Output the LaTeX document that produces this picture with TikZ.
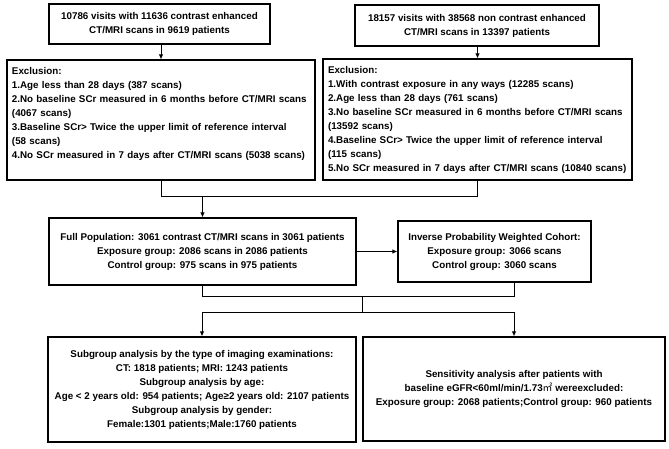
\documentclass[tikz,border=0pt]{standalone}
\usepackage{fontspec}
\setmainfont{Liberation Sans}
\newfontfamily\cjk{Noto Sans CJK SC}
\usetikzlibrary{arrows.meta}

\begin{document}
\begin{tikzpicture}[x=1pt,y=-1pt,
  every node/.style={font=\bfseries\fontsize{9.8}{14}\selectfont},
  box/.style={draw,line width=1.2pt,inner sep=0pt,align=center},
  exbox/.style={draw,line width=1.2pt,inner xsep=5pt,inner ysep=0pt,align=left},
  arr/.style={line width=1pt,-{Latex[length=5pt,width=4.5pt]}},
  ln/.style={line width=1pt}]
  \useasboundingbox (0,0) rectangle (669,448);
  \path (159.5,24) node[box,minimum width=221,minimum height=40] (vis1) {10786 visits with 11636 contrast enhanced\\CT/MRI scans in 9619 patients}
  (477,25.5) node[box,minimum width=244,minimum height=41] (vis2) {18157 visits with 38568 non contrast enhanced\\CT/MRI scans in 13397 patients}
  (161,120) node[exbox,text width=298,minimum height=120] (excl1) {Exclusion:\\1.Age less than 28 days (387 scans)\\2.No baseline SCr measured in 6 months before CT/MRI scans\\(4067 scans)\\3.Baseline SCr> Twice the upper limit of reference interval\\(58 scans)\\4.No SCr measured in 7 days after CT/MRI scans (5038 scans)\\\mbox{}}
  (477.5,119.5) node[exbox,text width=299,minimum height=121] (excl2) {Exclusion:\\1.With contrast exposure in any ways (12285 scans)\\2.Age less than 28 days (761 scans)\\3.No baseline SCr measured in 6 months before CT/MRI scans\\(13592 scans)\\4.Baseline SCr> Twice the upper limit of reference interval\\(115 scans)\\5.No SCr measured in 7 days after CT/MRI scans (10840 scans)}
  (202.5,251.5) node[box,minimum width=307,minimum height=67] (full) {Full Population: 3061 contrast CT/MRI scans in 3061 patients\\Exposure group: 2086 scans in 2086 patients\\Control group: 975 scans in 975 patients}
  (494.5,251.5) node[box,minimum width=193,minimum height=61] (ipw) {Inverse Probability Weighted Cohort:\\Exposure group: 3066 scans\\Control group: 3060 scans}
  (202,389.5) node[box,minimum width=308,minimum height=105] (sub) {Subgroup analysis by the type of imaging examinations:\\CT: 1818 patients; MRI: 1243 patients\\Subgroup analysis by age:\\Age < 2 years old: 954 patients; Age≥2 years old: 2107 patients\\Subgroup analysis by gender:\\Female:1301 patients;Male:1760 patients}
  (514,389) node[box,minimum width=302,minimum height=104] (sens) {Sensitivity analysis after patients with\\baseline eGFR<60ml/min/1.73{\cjk\mdseries ㎡} wereexcluded:\\Exposure group: 2068 patients;Control group: 960 patients};
  \coordinate (j1) at (0,196);
  \coordinate (j2) at (362,296);
  \coordinate (j3) at (362,312);
  \draw[arr] (vis1.south -| excl1.north) -- (excl1.north);
  \draw[arr] (vis2.south -| excl2.north) -- (excl2.north);
  \draw[ln] (excl1.south) |- (j1 -| excl2.south) -- (excl2.south);
  \draw[arr] (j1 -| full.north) -- (full.north);
  \draw[arr] (full.east) -- (ipw.west);
  \draw[ln] (full.south) |- (j2 -| sens.north) -- (ipw.south -| sens.north);
  \draw[ln] (j2) -- (j3);
  \draw[arr] (j3) -| (sub.north);
  \draw[arr] (j3) -| (sens.north);
\end{tikzpicture}
\end{document}
